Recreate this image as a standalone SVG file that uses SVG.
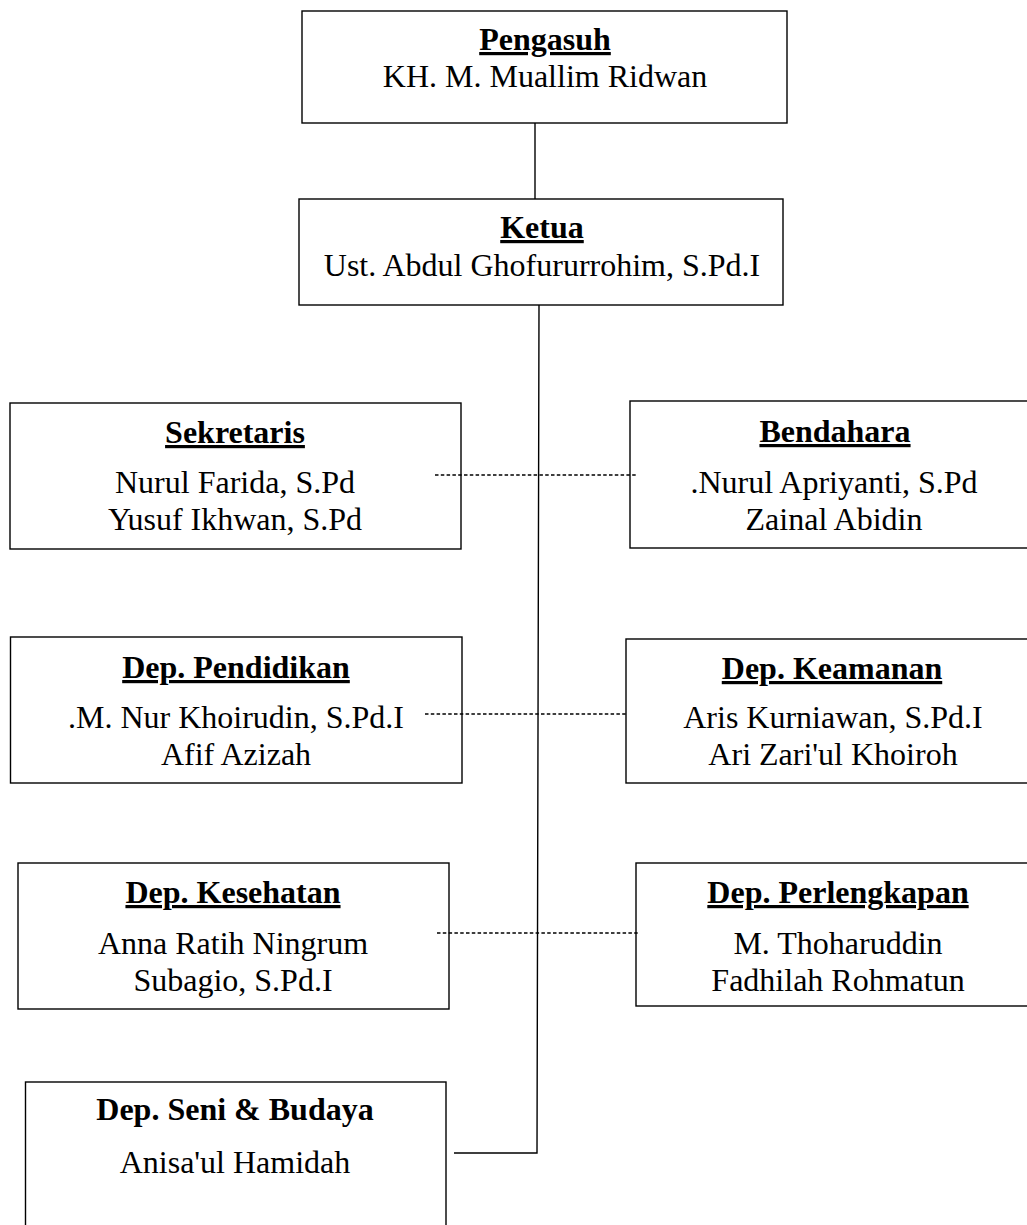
<svg xmlns="http://www.w3.org/2000/svg" width="1027" height="1225" viewBox="0 0 1027 1225">
<style>
.box{fill:#fff;stroke:#000;stroke-width:1.4}
text{font-family:"Liberation Serif","Times New Roman",serif;font-size:32px;fill:#000;text-anchor:middle}
.t{font-weight:bold;text-decoration:underline}
.tb{font-weight:bold}
.conn{fill:none;stroke:#000;stroke-width:1.4}
.dash{fill:none;stroke:#000;stroke-width:1.5;stroke-dasharray:3.5 2.3}
</style>
<rect width="1027" height="1225" fill="#fff"/>
<g id="pengasuh">
<rect class="box" x="302" y="11" width="485" height="112"/>
<text x="545" y="50" class="t">Pengasuh</text>
<text x="545" y="87">KH. M. Muallim Ridwan</text>
</g>
<g id="ketua">
<rect class="box" x="299" y="199" width="484" height="106"/>
<text x="542" y="238" class="t">Ketua</text>
<text x="542" y="276">Ust. Abdul Ghofururrohim, S.Pd.I</text>
</g>
<g id="sekretaris">
<rect class="box" x="10" y="403" width="451" height="146"/>
<text x="235" y="443" class="t">Sekretaris</text>
<text x="235" y="493">Nurul Farida, S.Pd</text>
<text x="235" y="530">Yusuf Ikhwan, S.Pd</text>
</g>
<g id="bendahara">
<rect class="box" x="630" y="401" width="410" height="147"/>
<text x="835" y="442" class="t">Bendahara</text>
<text x="834" y="493">.Nurul Apriyanti, S.Pd</text>
<text x="834" y="530">Zainal Abidin</text>
</g>
<g id="pendidikan">
<rect class="box" x="10.5" y="637" width="451.5" height="146"/>
<text x="236" y="678" class="t">Dep. Pendidikan</text>
<text x="236" y="728">.M. Nur Khoirudin, S.Pd.I</text>
<text x="236" y="765">Afif Azizah</text>
</g>
<g id="keamanan">
<rect class="box" x="626" y="639" width="414" height="144"/>
<text x="832" y="679" class="t">Dep. Keamanan</text>
<text x="833" y="728">Aris Kurniawan, S.Pd.I</text>
<text x="833" y="765">Ari Zari'ul Khoiroh</text>
</g>
<g id="kesehatan">
<rect class="box" x="18" y="863" width="431" height="146"/>
<text x="233" y="903" class="t">Dep. Kesehatan</text>
<text x="233" y="954">Anna Ratih Ningrum</text>
<text x="233" y="991">Subagio, S.Pd.I</text>
</g>
<g id="perlengkapan">
<rect class="box" x="636" y="863" width="405" height="143"/>
<text x="838" y="903" class="t">Dep. Perlengkapan</text>
<text x="838" y="954">M. Thoharuddin</text>
<text x="838" y="991">Fadhilah Rohmatun</text>
</g>
<g id="seni">
<rect class="box" x="25.5" y="1082" width="420.5" height="160"/>
<text x="235" y="1120" class="tb">Dep. Seni &amp; Budaya</text>
<text x="235" y="1173">Anisa'ul Hamidah</text>
</g>
<g id="connectors">
<line class="conn" x1="535" y1="123" x2="535" y2="199"/>
<path class="conn" d="M539,305 L537,1153 L454,1153"/>
<line class="dash" x1="435" y1="475" x2="636" y2="475"/>
<line class="dash" x1="425" y1="714" x2="627" y2="714"/>
<line class="dash" x1="437" y1="933" x2="639" y2="933"/>
</g>
</svg>
